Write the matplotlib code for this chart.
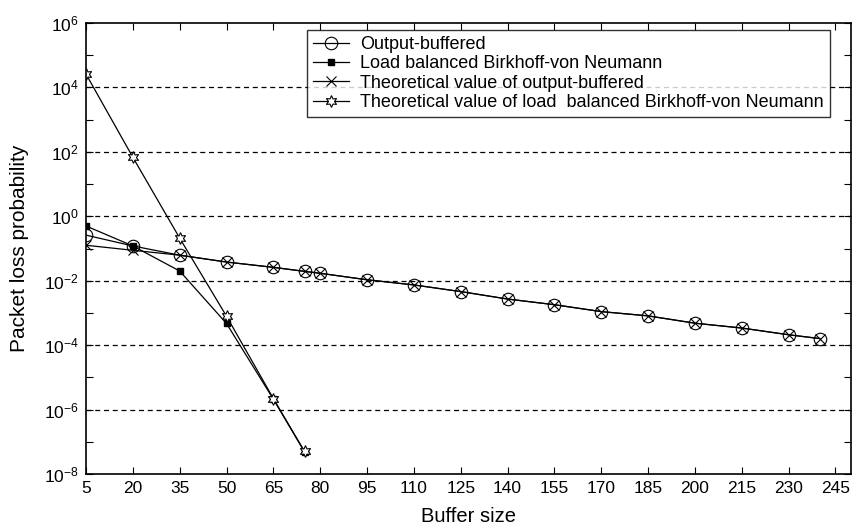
import numpy as np
import matplotlib.pyplot as plt
from matplotlib.ticker import FixedLocator, LogFormatterSciNotation, NullFormatter

plt.rcParams['font.family'] = ['Liberation Sans', 'DejaVu Sans']
plt.rcParams['mathtext.default'] = 'regular'

# buffer sizes
x_ob = [5, 20, 35, 50, 65, 75, 80, 95, 110, 125, 140, 155, 170, 185, 200, 215, 230, 240]
x_lb = [5, 20, 35, 50, 65, 75]

# packet loss probabilities
output_buffered = [0.26, 0.12, 0.062, 0.038, 0.026, 0.0195, 0.017, 0.0107, 0.0074, 0.0046,
                   0.0027, 0.0018, 0.0011, 8.1e-4, 4.8e-4, 3.4e-4, 2.1e-4, 1.6e-4]
lb_bvn = [0.5, 0.12, 0.02, 4.7e-4, 2.1e-6, 4.8e-8]
theo_ob = [0.126, 0.088, 0.062, 0.038, 0.026, 0.0195, 0.017, 0.0107, 0.0074, 0.0046,
           0.0027, 0.0018, 0.0011, 8.1e-4, 4.8e-4, 3.4e-4, 2.1e-4, 1.6e-4]
theo_lb = [2.6e4, 68, 0.21, 7.9e-4, 2.2e-6, 5.0e-8]

labels = ["Output-buffered",
          "Load balanced Birkhoff-von Neumann",
          "Theoretical value of output-buffered",
          "Theoretical value of load  balanced Birkhoff-von Neumann"]

xticks = list(range(5, 246, 15))

fig = plt.figure(figsize=(8.57, 5.27), dpi=100)
ax = fig.add_axes([86/857, 53/527, 765/857, 451/527])

lw = 0.9
ax.plot(x_ob, output_buffered, '-', color='k', lw=lw, marker='o', ms=9,
        mfc='none', mec='k', mew=0.8, label=labels[0])
ax.plot(x_lb, lb_bvn, '-', color='k', lw=lw, marker='s', ms=5,
        mfc='k', mec='k', label=labels[1])
ax.plot(x_ob, theo_ob, '-', color='k', lw=lw, marker='x', ms=6.5,
        mec='k', mew=0.8, label=labels[2])
ax.plot(x_lb, theo_lb, '-', color='k', lw=lw, marker=(6, 1, 0), ms=8.5,
        mfc='w', mec='k', mew=0.8, label=labels[3])

ax.set_yscale('log')
ax.set_xlim(5, 250)
ax.set_ylim(1e-8, 1e6)
ax.set_xticks(xticks)
ax.yaxis.set_major_locator(FixedLocator([10.0**k for k in range(-8, 7, 2)]))
ax.yaxis.set_minor_locator(FixedLocator([10.0**k for k in range(-7, 6, 2)]))
ax.yaxis.set_major_formatter(LogFormatterSciNotation())
ax.yaxis.set_minor_formatter(NullFormatter())

for k in range(-6, 5, 2):
    ax.axhline(10.0**k, color='k', lw=0.9, ls=(0, (4, 3)), zorder=0)

ax.tick_params(which='both', direction='in', top=True, right=True,
               length=5, width=0.8, labelsize=12.5, pad=5)
for s in ax.spines.values():
    s.set_linewidth(1.2)

ax.set_xlabel("Buffer size", fontsize=14.5, labelpad=8)
ax.set_ylabel("Packet loss probability", fontsize=15, labelpad=11)

leg = ax.legend(loc='upper left', bbox_to_anchor=(307/857, 1 - 30/527),
                bbox_transform=fig.transFigure, fontsize=13, frameon=True,
                fancybox=False, edgecolor='k', handlelength=2.0, handletextpad=0.6,
                borderpad=0.35, labelspacing=0.12, borderaxespad=0)
leg.get_frame().set_linewidth(1.0)

fig.savefig("out.png", dpi=100)
